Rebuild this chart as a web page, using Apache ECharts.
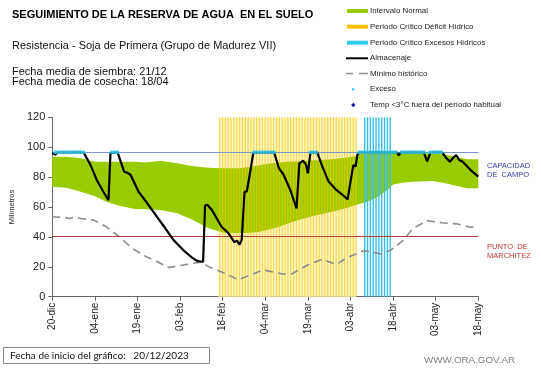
<!DOCTYPE html>
<html>
<head>
<meta charset="utf-8">
<script src="https://cdn.jsdelivr.net/npm/echarts@6/dist/echarts.min.js"></script>
<style>html,body{margin:0;padding:0;background:#fff}#c{width:541px;height:368px}</style>
</head>
<body>
<div id="c"></div>
<script>
// ---- data (days counted from 20-dic) ----
var tickLabels = ['20-dic','04-ene','19-ene','03-feb','18-feb','04-mar','19-mar','03-abr','18-abr','03-may','18-may'];

var bandDays  = [0, 5, 10, 15, 19, 24, 29, 33, 38, 44, 49, 55, 60, 66, 70, 73, 77, 80, 83, 87, 90, 93, 97, 100, 103, 107, 110, 114, 118, 120, 124, 127, 134, 138, 141, 146, 150];
var bandUpper = [93.6, 93.6, 92.6, 90.3, 90.3, 90.3, 90.3, 89.8, 91, 89.2, 87.4, 86.3, 86, 86, 87, 88, 89.2, 89.8, 90.3, 90.6, 91, 91.2, 91.8, 92.2, 93, 94.1, 96.3, 96.5, 96.5, 96.4, 96.3, 96.2, 96, 95.2, 94.1, 92, 92];
var bandLower = [73.6, 72.9, 70.2, 67.2, 63.5, 60.7, 58.7, 58.5, 58, 55.8, 51.8, 45.8, 43, 42.4, 42.8, 43.5, 45.3, 46.8, 49, 51.5, 53, 54.5, 56.2, 57.5, 59, 61.3, 63, 66, 71.4, 75, 76.4, 76.9, 77.4, 76, 74.7, 72.6, 72.5];

var almDays = [0, 1, 2, 11, 13.5, 15.7, 18, 19.8, 20.5, 20.8, 23, 25.3, 26.4, 27.6, 30.4, 32.6, 36, 39.4, 42.7, 46.1, 49.5, 51, 53.1, 53.8, 54.6, 56.2, 59.6, 62, 64.1, 65.1, 65.9, 66.7, 67.7, 68.5, 69.1, 70.8, 71, 78.1, 79.8, 81.5, 83.8, 86, 87, 88.3, 89.3, 90, 90.9, 91.2, 93.3, 95, 97.3, 100, 102, 104, 105.1, 106, 106.8, 107.4, 108.2, 121.3, 122, 122.8, 130.8, 132, 133.2, 137.2, 138.8, 140, 141, 142.2, 143.3, 144.5, 147.3, 150];
var almVals = [96.3, 95, 96.6, 96.6, 88, 78, 70.2, 64.5, 96, 96.6, 96.6, 83.6, 83, 81.4, 70.2, 64.7, 55.8, 46.8, 37.9, 31.2, 25.7, 24, 23.2, 61, 61.5, 58, 46.8, 42.5, 36.5, 37.5, 34.8, 38, 70.2, 70.5, 76.9, 96.3, 96.6, 96.6, 86, 81.4, 71.4, 59.1, 89.2, 91, 88.5, 82.5, 96.3, 96.6, 96.6, 87.5, 77, 71.4, 68.5, 65.1, 78, 88, 87, 94.8, 96.6, 96.6, 94.5, 96.6, 96.6, 90.5, 96.6, 96.6, 92.6, 90.3, 92.6, 94.8, 91.4, 90.3, 84.7, 80.3];

var minDays = [0, 4, 6, 7.5, 10, 14.6, 19, 23.6, 28.1, 33, 37, 41, 44, 49.5, 52.3, 55.1, 60.7, 65.5, 69.7, 74.2, 81, 84.3, 89.9, 95, 100, 103.4, 109.6, 115.8, 119.2, 123.7, 127, 132.1, 137.2, 142.8, 147.3, 150];
var minVals = [53.5, 53, 52.3, 53.1, 52.3, 51.3, 46.8, 40.1, 32.4, 26.8, 23.4, 19.5, 20.5, 22.3, 23, 20.1, 15.7, 11.3, 14.5, 17.9, 15.2, 15.2, 21.2, 25, 21.5, 25.7, 30.8, 28.6, 31.2, 37.9, 45.8, 50.8, 49.5, 48.6, 46.4, 46.8];

var deficitDays = [59, 60, 61, 62, 63, 64, 65, 66, 67, 68, 69, 70, 71, 72, 73, 74, 75, 76, 77, 78, 79, 80, 81, 82, 83, 84, 85, 86, 87, 88, 89, 90, 91, 92, 93, 94, 95, 96, 97, 98, 99, 100, 101, 102, 103, 104, 105, 106, 107];
var deficitRange = [58.5, 107];
var excesoPeriodDays = [110, 111, 112, 113, 114, 115, 116, 117, 118, 119];
var excesoDays = [1, 2, 3, 4, 5, 6, 7, 8, 9, 10, 11, 21, 22, 23, 71, 72, 73, 74, 75, 76, 77, 78, 91, 92, 93, 108, 109, 110, 111, 112, 113, 114, 115, 116, 117, 118, 119, 120, 121, 123, 124, 125, 126, 127, 128, 129, 130, 131, 133, 134, 135, 136, 137];
var excesoLevel = 96.6;
var capacidadCampo = 96.6;
var puntoMarchitez = 40.5;
var yMax = 120;

function pairs(xs, ys) { return xs.map(function (x, i) { return [x, ys[i]]; }); }

var chart = echarts.init(document.getElementById('c'), null, { renderer: 'canvas' });
var FONT = '"Liberation Sans", Arial, sans-serif';

var legendY = [11, 26.7, 42.7, 58.3, 73.5, 89.3, 105];
var legendNames = ['Intervalo Normal', 'Periodo Crítico Déficit Hídrico', 'Periodo Crítico Excesos Hídricos', 'Almacenaje', 'Mínimo histórico', 'Exceso', 'Temp <3°C fuera del período habitual'];

var graphics = [
  { type: 'text', x: 12, y: 15, style: { text: 'SEGUIMIENTO DE LA RESERVA DE AGUA  EN EL SUELO', font: 'bold 11px ' + FONT, fill: '#000', verticalAlign: 'middle' } },
  { type: 'text', x: 12, y: 45.5, style: { text: 'Resistencia - Soja de Primera (Grupo de Madurez VII)', font: '11px ' + FONT, fill: '#111', verticalAlign: 'middle' } },
  { type: 'text', x: 12, y: 71.5, style: { text: 'Fecha media de siembra: 21/12', font: '11px ' + FONT, fill: '#111', verticalAlign: 'middle' } },
  { type: 'text', x: 12, y: 82, style: { text: 'Fecha media de cosecha: 18/04', font: '11px ' + FONT, fill: '#111', verticalAlign: 'middle' } },
  // legend
  { type: 'rect', shape: { x: 347, y: legendY[0] - 2, width: 21, height: 4 }, style: { fill: '#99CC00' } },
  { type: 'rect', shape: { x: 347, y: legendY[1] - 2, width: 21, height: 4 }, style: { fill: '#FFC000' } },
  { type: 'rect', shape: { x: 347, y: legendY[2] - 2, width: 21, height: 4 }, style: { fill: '#33CCF0' } },
  { type: 'line', shape: { x1: 346, y1: legendY[3], x2: 368, y2: legendY[3] }, style: { stroke: '#000', lineWidth: 2 } },
  { type: 'line', shape: { x1: 346, y1: legendY[4], x2: 353, y2: legendY[4] }, style: { stroke: '#909090', lineWidth: 1.5 } },
  { type: 'line', shape: { x1: 359, y1: legendY[4], x2: 368, y2: legendY[4] }, style: { stroke: '#909090', lineWidth: 1.5 } },
  { type: 'rect', shape: { x: 352, y: legendY[5] - 1, width: 2.2, height: 2.2 }, style: { fill: '#33CCEE' } },
  { type: 'polygon', shape: { points: [[353.3, legendY[6] - 2.2], [355.5, legendY[6]], [353.3, legendY[6] + 2.2], [351.1, legendY[6]]] }, style: { fill: '#1A1A9A' } },
  // right side labels
  { type: 'text', x: 487, y: 170, style: { text: 'CAPACIDAD\nDE  CAMPO', font: '7.5px ' + FONT, fill: '#3B3BAA', verticalAlign: 'middle', lineHeight: 9 } },
  { type: 'text', x: 487, y: 251, style: { text: 'PUNTO  DE\nMARCHITEZ', font: '7.5px ' + FONT, fill: '#C0392B', verticalAlign: 'middle', lineHeight: 9 } },
  // footer
  { type: 'rect', shape: { x: 3.5, y: 347.5, width: 206, height: 16 }, style: { fill: 'none', stroke: '#8E7F8E', lineWidth: 1 } },
  { type: 'text', x: 10, y: 356, style: { text: 'Fecha de inicio del gráfico:   20/12/2023', font: '10px Lato, ' + FONT, fill: '#111', verticalAlign: 'middle' } },
  { type: 'text', x: 424, y: 360, style: { text: 'WWW.ORA.GOV.AR', font: '9.8px ' + FONT, fill: '#7F7F7F', verticalAlign: 'middle' } }
];
legendNames.forEach(function (n, i) {
  graphics.push({ type: 'text', x: 370, y: legendY[i], style: { text: n, font: '7.9px ' + FONT, fill: '#222', verticalAlign: 'middle' } });
});

var bandData = bandDays.map(function (d, i) { return [d, bandUpper[i], bandLower[i]]; });

var option = {
  animation: false,
  backgroundColor: '#fff',
  textStyle: { fontFamily: FONT },
  grid: { left: 33.3, right: 62.7, top: 117.3, bottom: 71.3, containLabel: false },
  xAxis: {
    type: 'value', min: 0, max: 150, interval: 15,
    axisLine: { lineStyle: { color: '#666' } },
    axisTick: { show: true, length: 4, lineStyle: { color: '#666' } },
    splitLine: { show: false },
    axisLabel: { rotate: 90, fontSize: 10, color: '#222', margin: 6, formatter: function (v) { return tickLabels[Math.round(v / 15)]; } }
  },
  yAxis: {
    type: 'value', min: 0, max: yMax, interval: 20,
    name: 'Milímetros', nameLocation: 'middle', nameGap: 26, nameTextStyle: { fontSize: 7.5, color: '#222' },
    axisLine: { show: true, lineStyle: { color: '#666' } },
    axisTick: { show: true, length: 4, lineStyle: { color: '#666' } },
    splitLine: { show: false },
    axisLabel: { fontSize: 11, color: '#222', margin: 7 }
  },
  graphic: graphics,
  series: [
    {
      name: 'deficitBackground', type: 'line', z: 1, symbol: 'none', silent: true,
      data: [],
      markArea: { silent: true, itemStyle: { color: '#FFF6CC' }, data: [[{ xAxis: deficitRange[0] }, { xAxis: deficitRange[1] }]] }
    },
    {
      name: 'Intervalo Normal', type: 'custom', z: 2, silent: true,
      data: bandData,
      encode: { x: 0, y: [1, 2] },
      renderItem: function (params, api) {
        if (params.dataIndex !== 0) return null;
        var top = bandData.map(function (p) { return api.coord([p[0], p[1]]); });
        var bot = bandData.slice().reverse().map(function (p) { return api.coord([p[0], p[2]]); });
        return { type: 'polygon', shape: { points: top.concat(bot) }, style: { fill: '#99CC00' } };
      }
    },
    {
      name: 'Periodo Crítico Déficit Hídrico', type: 'bar', z: 3, barWidth: 1.2, barGap: '-100%', silent: true,
      data: deficitDays.map(function (d) { return [d, yMax]; }),
      itemStyle: { color: 'rgba(245,200,0,0.65)' }
    },
    {
      name: 'Periodo Crítico Excesos Hídricos', type: 'bar', z: 3, barWidth: 1.4, barGap: '-100%', silent: true,
      data: excesoPeriodDays.map(function (d) { return [d, yMax]; }),
      itemStyle: { color: '#36C0E6' }
    },
    {
      name: 'Mínimo histórico', type: 'line', z: 4, symbol: 'none', silent: true,
      data: pairs(minDays, minVals),
      lineStyle: { color: '#8C8C8C', width: 1.6, type: [8, 5] },
      markLine: {
        silent: true, symbol: ['none', 'none'], label: { show: false },
        data: [
          { yAxis: capacidadCampo, lineStyle: { color: '#7B96C8', width: 1, type: 'solid' } },
          { yAxis: puntoMarchitez, lineStyle: { color: '#B5403A', width: 1, type: 'solid' } }
        ]
      }
    },
    {
      name: 'Almacenaje', type: 'line', z: 5, symbol: 'none', silent: true,
      data: pairs(almDays, almVals),
      lineStyle: { color: '#000', width: 2.2 }
    },
    {
      name: 'Exceso', type: 'scatter', z: 6, symbol: 'circle', symbolSize: 4, silent: true,
      data: excesoDays.map(function (d) { return [d, excesoLevel]; }),
      itemStyle: { color: '#33CCEE' }
    }
  ]
};
chart.setOption(option);
</script>
</body>
</html>
